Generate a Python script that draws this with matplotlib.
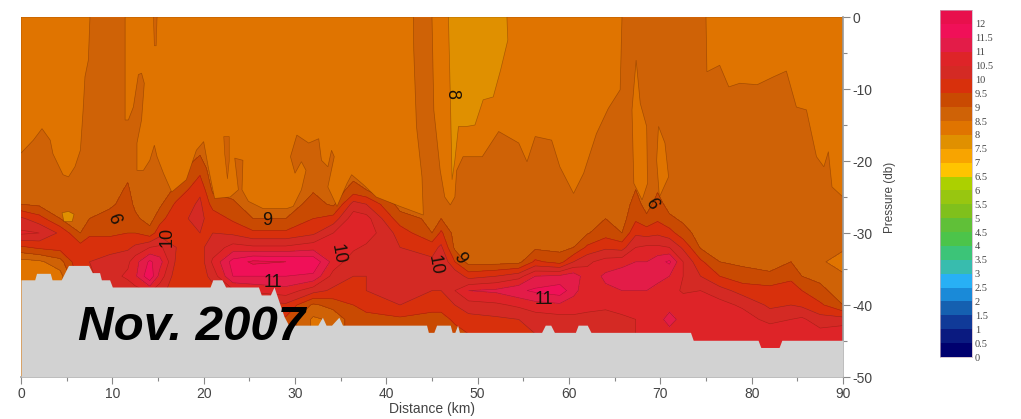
import numpy as np
from matplotlib import pyplot as plt
from matplotlib.colors import ListedColormap, BoundaryNorm

plt.rcParams['font.family'] = ['Liberation Sans', 'DejaVu Sans']

# pressure levels (db, positive down) for each profile
depths = [0, 18, 21, 24, 26, 28, 30, 32, 34, 36, 38, 40, 42, 44, 47, 50]

# distance (km) of each profile, one row per station
stations = [0, 2, 4.3, 6.5, 7.5, 9.7, 11.7, 12.5, 14.1, 15.2, 17, 19.6, 21, 23.2, 25.4, 29, 32, 34.2, 36.4, 37.8,
            41.5, 45, 46, 47.5, 49, 52, 54.5, 56.3, 59, 60.5, 62, 64, 65.8, 67.3, 68.5, 69.7, 71, 72.5, 74.4,
            76.5, 79, 82, 84.3, 85.5, 87.5, 90]
salinity = [
    [8.6, 8.6, 8.6, 8.7, 9.0, 10.1, 10.6, 9.4, 8.3, 8.3, 8.3, 8.3, 8.3, 8.3, 8.3, 8.3],
    [8.6, 8.6, 8.6, 8.7, 8.9, 9.7, 10.5, 9.6, 8.4, 8.3, 8.3, 8.3, 8.3, 8.3, 8.3, 8.3],
    [8.6, 8.6, 8.6, 8.6, 8.7, 9.0, 9.9, 9.7, 8.8, 8.3, 8.3, 8.3, 8.3, 8.3, 8.3, 8.3],
    [8.6, 8.6, 8.6, 8.6, 8.7, 8.8, 9.0, 9.7, 10.0, 9.8, 9.8, 9.8, 9.8, 9.8, 9.8, 9.8],
    [8.6, 8.6, 8.6, 8.7, 8.8, 9.0, 9.4, 9.8, 10.0, 9.9, 9.9, 9.9, 9.9, 9.9, 9.9, 9.9],
    [8.6, 8.6, 8.6, 8.7, 8.9, 9.2, 9.4, 9.8, 10.2, 10.3, 10.0, 10.0, 10.0, 10.0, 10.0, 10.0],
    [8.6, 8.7, 8.8, 9.1, 9.2, 9.3, 9.5, 9.9, 10.4, 10.6, 10.2, 10.2, 10.2, 10.2, 10.2, 10.2],
    [8.6, 8.6, 8.6, 8.7, 8.9, 9.1, 9.5, 10.1, 10.8, 10.9, 10.3, 10.3, 10.3, 10.3, 10.3, 10.3],
    [8.6, 8.6, 8.6, 8.6, 8.6, 8.8, 9.2, 10.5, 11.6, 11.9, 10.6, 10.6, 10.6, 10.6, 10.6, 10.6],
    [8.6, 8.6, 8.6, 8.7, 8.9, 9.3, 9.8, 10.6, 11.2, 10.8, 10.2, 10.2, 10.2, 10.2, 10.2, 10.2],
    [8.6, 8.6, 8.8, 9.1, 9.6, 9.9, 10.0, 10.0, 9.9, 9.7, 9.7, 9.7, 9.7, 9.7, 9.7, 9.7],
    [8.6, 8.8, 9.3, 9.9, 10.1, 10.1, 10.0, 9.9, 9.7, 9.7, 9.7, 9.7, 9.7, 9.7, 9.7, 9.7],
    [8.6, 8.6, 8.7, 8.9, 9.3, 9.8, 10.0, 10.2, 10.6, 10.2, 9.8, 9.8, 9.8, 9.8, 9.8, 9.8],
    [8.6, 8.6, 8.6, 8.8, 9.1, 9.4, 9.9, 10.7, 11.7, 11.5, 10.4, 9.8, 9.8, 9.8, 9.8, 9.8],
    [8.6, 8.6, 8.6, 8.6, 8.7, 9.0, 9.6, 10.6, 12.1, 11.5, 10.6, 9.8, 9.8, 9.8, 9.8, 9.8],
    [8.6, 8.6, 8.6, 8.6, 8.7, 9.0, 9.6, 10.6, 12.0, 11.5, 10.8, 9.9, 9.4, 9.4, 9.4, 9.4],
    [8.6, 8.6, 8.6, 8.95, 9.2, 9.5, 9.9, 10.8, 11.9, 11.4, 10.2, 8.9, 8.4, 8.4, 8.4, 8.4],
    [8.6, 8.6, 8.6, 8.7, 8.9, 9.7, 10.5, 10.8, 10.8, 10.3, 9.9, 9.2, 8.6, 8.6, 8.6, 8.6],
    [8.6, 8.6, 8.7, 9.2, 10.2, 10.8, 10.9, 10.6, 10.2, 10.0, 9.8, 9.5, 9.3, 9.3, 9.3, 9.3],
    [8.6, 8.6, 8.7, 9.0, 10.0, 10.7, 10.8, 10.4, 10.1, 10.0, 10.0, 9.7, 9.3, 9.3, 9.3, 9.3],
    [8.6, 8.6, 8.6, 8.7, 8.8, 9.2, 9.8, 10.0, 10.1, 10.4, 10.5, 10.0, 9.4, 9.4, 9.4, 9.4],
    [8.6, 8.6, 8.6, 8.6, 8.7, 8.9, 9.0, 9.8, 10.1, 10.1, 10.0, 9.7, 9.3, 9.3, 9.3, 9.3],
    [8.6, 8.6, 8.6, 8.7, 8.8, 9.0, 9.6, 10.1, 10.5, 10.3, 10.0, 9.7, 9.3, 9.3, 9.3, 9.3],
    [8.6, 8.6, 8.6, 8.6, 8.6, 8.7, 8.8, 8.9, 9.5, 10.4, 10.5, 10.0, 9.6, 9.3, 9.3, 9.3],
    [8.6, 8.6, 8.6, 8.6, 8.6, 8.6, 8.6, 8.7, 8.8, 9.8, 11.0, 10.3, 9.8, 9.5, 9.5, 9.5],
    [8.6, 8.6, 8.6, 8.6, 8.6, 8.6, 8.6, 8.7, 8.8, 10.0, 11.1, 10.4, 9.9, 9.6, 9.6, 9.6],
    [8.6, 8.6, 8.6, 8.6, 8.6, 8.6, 8.6, 8.7, 8.85, 10.3, 11.4, 10.6, 10.0, 9.7, 9.7, 9.7],
    [8.6, 8.6, 8.6, 8.6, 8.6, 8.6, 8.7, 8.9, 9.6, 11.0, 11.6, 10.8, 10.2, 10.0, 10.0, 10.0],
    [8.6, 8.6, 8.6, 8.6, 8.6, 8.6, 8.7, 8.85, 9.3, 11.1, 11.8, 10.9, 10.3, 10.1, 10.1, 10.1],
    [8.6, 8.6, 8.6, 8.6, 8.6, 8.6, 8.8, 9.0, 10.0, 11.3, 11.2, 10.7, 10.4, 10.2, 10.2, 10.2],
    [8.6, 8.6, 8.6, 8.6, 8.6, 8.7, 8.95, 9.6, 10.4, 10.7, 10.6, 10.6, 10.4, 10.3, 10.3, 10.3],
    [8.6, 8.6, 8.6, 8.6, 8.7, 9.0, 9.3, 9.9, 10.7, 11.1, 10.9, 10.6, 10.3, 10.3, 10.3, 10.3],
    [8.6, 8.6, 8.6, 8.6, 8.7, 8.8, 9.0, 9.8, 10.8, 11.3, 11.0, 10.7, 10.4, 10.4, 10.4, 10.4],
    [8.6, 8.6, 8.7, 9.0, 9.2, 9.4, 9.9, 10.5, 11.0, 11.3, 11.0, 10.7, 10.5, 10.5, 10.5, 10.5],
    [8.6, 8.6, 8.6, 8.7, 8.8, 9.1, 9.8, 10.6, 11.0, 11.2, 11.0, 10.8, 10.6, 10.7, 10.7, 10.7],
    [8.6, 8.6, 8.7, 8.95, 9.2, 9.4, 9.9, 10.6, 11.3, 11.1, 10.9, 10.8, 10.9, 10.9, 10.9, 10.9],
    [8.6, 8.6, 8.6, 8.7, 8.8, 9.1, 9.7, 10.5, 11.6, 11.0, 10.8, 10.9, 11.1, 10.9, 10.9, 10.9],
    [8.6, 8.6, 8.6, 8.6, 8.7, 8.9, 9.2, 9.9, 10.5, 10.5, 10.4, 10.9, 10.9, 10.9, 10.9, 10.9],
    [8.6, 8.6, 8.6, 8.6, 8.6, 8.7, 8.8, 8.95, 9.6, 10.0, 10.5, 10.9, 10.9, 10.8, 10.8, 10.8],
    [8.6, 8.6, 8.6, 8.6, 8.6, 8.6, 8.6, 8.8, 9.0, 9.5, 10.2, 10.7, 10.9, 10.8, 10.8, 10.8],
    [8.6, 8.6, 8.6, 8.6, 8.6, 8.6, 8.6, 8.7, 8.9, 9.2, 9.8, 10.4, 10.8, 10.9, 10.9, 10.9],
    [8.6, 8.6, 8.6, 8.6, 8.6, 8.6, 8.6, 8.6, 8.8, 9.1, 9.7, 9.9, 10.3, 10.95, 10.95, 10.95],
    [8.6, 8.6, 8.6, 8.6, 8.6, 8.6, 8.6, 8.7, 9.0, 9.4, 9.7, 10.0, 10.5, 10.95, 10.95, 10.95],
    [8.6, 8.6, 8.6, 8.6, 8.6, 8.6, 8.6, 8.6, 8.8, 9.0, 9.5, 9.9, 10.6, 10.9, 10.9, 10.9],
    [8.6, 8.6, 8.6, 8.6, 8.6, 8.6, 8.6, 8.6, 8.6, 8.9, 9.1, 9.6, 10.2, 10.7, 10.7, 10.7],
    [8.6, 8.6, 8.6, 8.6, 8.6, 8.6, 8.6, 8.6, 8.2, 8.6, 8.8, 9.0, 10.2, 10.9, 10.9, 10.9],
]

# 8.5 isohaline, closed outlines of the fresher water above it (distance, pressure)
fresh_left_x = [0, 7.55, 7.37, 7.0, 6.8, 6.5, 5.9, 5.2, 4.6, 3.5, 3.2, 2.3, 1.35, 0]
fresh_left_p = [0, 0, 6, 8.3, 12.9, 18.5, 20.8, 22.2, 21.9, 19, 17.1, 15.5, 17.1, 18.9]
fresh_mid_x = [11.4, 11.4, 11.75, 12.3, 12.85, 13.2, 13.5, 13.2, 12.7, 12.7, 13.4, 14.1, 14.6, 14.9, 15.6, 16.5,
               18.1, 19.2, 20, 20.5, 21.2, 22.9, 23.8, 23.4, 24.3, 24.2, 24.9, 26.5, 29.1, 29.8, 30.7, 31.2,
               30.7, 30, 29.5, 30.2, 31.5, 32.6, 32.9, 33.6, 34, 34.3, 33.6, 34.6, 35.7, 36.2, 37.5, 38.9,
               41.5, 44.05, 43.9, 43.3, 43, 42.96]
fresh_mid_p = [0, 14.3, 14.3, 12.5, 8, 7.8, 9.2, 14.3, 17.5, 21.3, 21.3, 19.9, 17.8, 19.4, 21.7, 24.3,
               22.6, 18.5, 17.3, 20.8, 25.2, 25, 24, 19.6, 19.9, 24, 25.6, 26.6, 26.6, 26.3, 24, 21.3,
               20.1, 21.7, 19.4, 16.4, 17.5, 16.9, 19.9, 20.8, 18.5, 19.4, 23.6, 26.3, 23.1, 21.9, 23.3, 25,
               26.3, 27.5, 22.2, 15.2, 4.6, 0]
fresh_center_x = [45, 45.2, 45.9, 46.4, 47, 47.5, 47.7, 48.4, 50.5, 52.3, 54.5, 55.4, 56.3, 58.1, 59, 60.5, 61.6,
                  63, 64.3, 65.6, 65.8]
fresh_center_p = [0, 12.9, 21.3, 25, 26.1, 25, 21.3, 19.4, 19.4, 15.9, 17.5, 20.1, 16.6, 17.1, 20.8, 24.5, 21.7,
                  16.2, 12.7, 10.1, 0]
fresh_right_x = [75, 75.1, 76.5, 77.5, 78.7, 80.6, 82.4, 83.8, 84.9, 86, 87.1, 87.9, 88.4, 88.8, 90, 90]
fresh_right_p = [0, 7.6, 6.7, 9.7, 9.2, 9.4, 8.3, 7.5, 12.5, 12.9, 19.4, 20.8, 18.7, 23.6, 25, 0]
lens_a_x = [67.35, 66.9, 67.1, 68, 68.6, 68.5, 67.8]
lens_a_p = [6, 12.9, 23.1, 25.4, 23.1, 15.2, 12]
lens_b_x = [69.8, 69.6, 69.9, 70.9, 70.5]
lens_b_p = [15.2, 19.9, 25, 22.2, 17.5]

# 8 isohaline, the freshest tongue under the label
tongue_x = [46.8, 47, 47.2, 47.5, 47.9, 48.8, 49.7, 50.6, 51.7, 52.5, 53.3, 53.2]
tongue_p = [0, 10.6, 22.6, 19.9, 15.2, 15.2, 15, 11.5, 11.1, 7.4, 3.2, 0]
spot_x = [4.5, 5.2, 5.8, 5.6, 4.7]
spot_p = [27.2, 27, 27.4, 28.4, 28.4]

# saltier slivers left inside the fresh water
sliver_a_x = [14.5, 14.9, 14.8, 14.6]
sliver_a_p = [0, 0, 4, 4]
sliver_b_x = [22.2, 22.8, 22.8, 22.6, 22.3]
sliver_b_p = [16.6, 16.6, 20, 22.5, 19]

# sea floor outline, everything below it is masked grey
bottom_x = [0, 1.5, 1.7, 3.2, 3.4, 4.4, 5.2, 7.4, 7.8, 8.6, 8.8, 9.7, 10, 20.7, 21, 22, 22.4, 26, 26.3,
            27.3, 27.7, 28.8, 29.3, 32.5, 33, 33.4, 34, 34.8, 35.2, 44.4, 44.6, 45.2, 45.5, 47, 47.2, 47.5,
            47.8, 48, 57, 57.4, 58, 58.4, 60.7, 61, 62, 62.4, 73.3, 73.6, 80.7, 81, 83, 83.3, 90]
bottom_p = [36.5, 36.5, 35.6, 35.6, 36.5, 36.5, 34.5, 34.5, 35.5, 35.5, 36.5, 36.5, 37.5, 37.5, 36.5, 36.5,
            37.5, 37.5, 38.6, 38.6, 37.5, 41.6, 42.8, 42.8, 41.7, 42.8, 42.8, 41.7, 42.8, 42.8, 43.8, 43.8,
            42.8, 42.8, 43.8, 43.8, 42.8, 43.8, 43.8, 42.8, 42.8, 43.8, 43.8, 42.8, 42.8, 43.8, 43.8, 44.9,
            44.9, 45.9, 45.9, 44.9, 44.9]

levels = np.arange(0, 13, 0.5)
level_labels = ['0', '0.5', '1', '1.5', '2', '2.5', '3', '3.5', '4', '4.5', '5', '5.5', '6', '6.5', '7',
                '7.5', '8', '8.5', '9', '9.5', '10', '10.5', '11', '11.5', '12']
band_colors = ['#00006e', '#0a1a80', '#103a98', '#1560b0', '#1a8ad8', '#28b0f5', '#38bcae', '#3cc478',
               '#4cc44a', '#60c038', '#80c01c', '#98c610', '#acd000', '#ffc400', '#f8a400', '#e09000',
               '#e07400', '#cf6206', '#c94a02', '#d8300c', '#d42a24', '#de2428', '#e31c48', '#f01058',
               '#e8104c']
COLOR_7_5 = band_colors[15]
COLOR_8 = band_colors[16]
COLOR_8_5 = band_colors[17]
LINE = '#5a200066'

# (text, distance, pressure, rotation)
contour_labels = [('8', 47.2, -10.7, 270), ('9', 10.7, -27.7, 110), ('10', 16, -30.5, 90),
                  ('9', 27, -28.3, 0), ('11', 27.6, -36.9, 0), ('10', 34.7, -33, 280),
                  ('10', 45.3, -34.5, 280), ('9', 48, -33.5, 300), ('11', 57.3, -39.2, 0),
                  ('9', 69.6, -25.5, 120)]

fig = plt.figure(figsize=(10.21, 4.19), dpi=100)
ax = fig.add_axes([21/1021, 1-377/419, 822/1021, 360/419])

X, Y = np.meshgrid(stations, -np.array(depths))
Z = np.array(salinity).T
ax.contourf(X, Y, Z, levels=levels, colors=band_colors)
ax.contour(X, Y, Z, levels=levels, colors='#5a2000', linewidths=0.4, alpha=0.45)

# fresher water drawn over the contoured field
for px, pp in [(fresh_left_x, fresh_left_p), (fresh_mid_x, fresh_mid_p),
               (fresh_center_x, fresh_center_p), (fresh_right_x, fresh_right_p),
               (lens_a_x, lens_a_p), (lens_b_x, lens_b_p)]:
    ax.fill(px, -np.array(pp), facecolor=COLOR_8, edgecolor=LINE, lw=0.5, zorder=2)
for px, pp in [(tongue_x, tongue_p), (spot_x, spot_p)]:
    ax.fill(px, -np.array(pp), facecolor=COLOR_7_5, edgecolor=LINE, lw=0.5, zorder=2.1)
for px, pp in [(sliver_a_x, sliver_a_p), (sliver_b_x, sliver_b_p)]:
    ax.fill(px, -np.array(pp), facecolor=COLOR_8_5, edgecolor=LINE, lw=0.4, zorder=2.1)

ax.fill_between(bottom_x, -np.array(bottom_p), -50, color='#d2d2d2', lw=0, zorder=3)

for txt, x, y, rot in contour_labels:
    ax.text(x, y, txt, fontsize=13, color='#1a1008', rotation=rot, ha='center', va='center', zorder=4)
ax.text(31.1, -44.8, 'Nov. 2007', fontsize=35.5, fontweight='bold', fontstyle='italic', color='black',
        ha='right', va='baseline', zorder=5)

ax.set_xlim(0, 90)
ax.set_ylim(-50, 0)
ax.set_xticks(range(0, 100, 10))
ax.set_xticks(range(5, 95, 10), minor=True)
ax.set_yticks(range(-50, 10, 10))
ax.set_yticks(range(-45, 0, 10), minor=True)
ax.set_yticklabels(['-50', '-40', '-30', '-20', '-10', '0'])
ax.yaxis.tick_right()
ax.yaxis.set_label_position('right')
for s in ['top', 'left']:
    ax.spines[s].set_visible(False)
for s in ['bottom', 'right']:
    ax.spines[s].set_color('#999999')
    ax.spines[s].set_linewidth(1.2)
ax.tick_params(which='major', length=5, width=0.8, color='#888888', labelcolor='#444444', labelsize=10, pad=2)
ax.tick_params(which='minor', length=3, width=0.8, color='#888888')
ax.set_xlabel('Distance (km)', fontsize=10, color='#444444', labelpad=1)
ax.set_ylabel('Pressure (db)', fontsize=8.5, color='#444444', labelpad=8)

# colour key
cax = fig.add_axes([940/1021, 1-357/419, 32/1021, 347/419])
cmap = ListedColormap(band_colors)
norm = BoundaryNorm(levels, cmap.N)
cax.pcolormesh([0, 1], levels, np.array(levels[:-1]).reshape(-1, 1), cmap=cmap, norm=norm)
cax.set_xticks([])
cax.set_yticks(levels[:-1])
cax.set_yticklabels(level_labels, family=['Liberation Serif'], fontsize=7.5, color='#444444')
cax.yaxis.tick_right()
cax.tick_params(axis='y', length=0, pad=2)
for s in cax.spines.values():
    s.set_color('#c8b0c0')
    s.set_linewidth(0.5)

fig.savefig('out.png', dpi=100)
